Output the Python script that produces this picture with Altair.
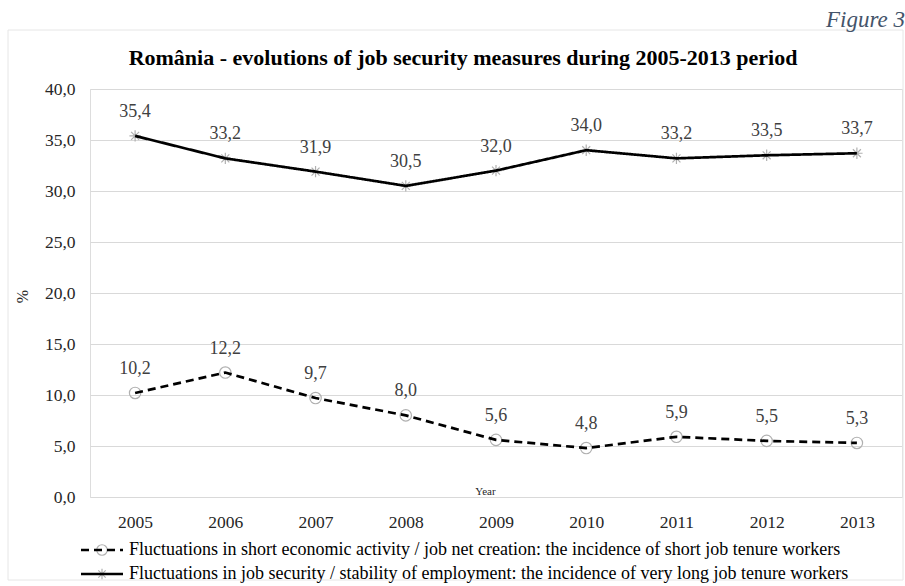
import altair as alt
import pandas as pd

years = ["2005", "2006", "2007", "2008", "2009", "2010", "2011", "2012", "2013"]
short_tenure = [10.2, 12.2, 9.7, 8.0, 5.6, 4.8, 5.9, 5.5, 5.3]
long_tenure = [35.4, 33.2, 31.9, 30.5, 32.0, 34.0, 33.2, 33.5, 33.7]
series_names = [
    "Fluctuations in short economic activity / job net creation: the incidence of short job tenure workers",
    "Fluctuations in job security / stability of employment:  the incidence of very  long job tenure workers",
]
y_ticks = [0, 5, 10, 15, 20, 25, 30, 35, 40]
title_text = "România - evolutions of job security measures during 2005-2013 period"

df = pd.DataFrame({
    "year": years * 2,
    "value": short_tenure + long_tenure,
    "series": [series_names[0]] * len(years) + [series_names[1]] * len(years),
})
df["marker"] = df["series"]

FONT = "Liberation Serif"
W, H = 812, 408

x_enc = alt.X("year:O", scale=alt.Scale(type="point", padding=0.5),
              axis=alt.Axis(title="Year", labelAngle=0, ticks=False, domain=False,
                            labelPadding=16, labelFontSize=17.5, labelColor="#262626",
                            labelFont=FONT, titleFont=FONT, titleFontSize=11,
                            titleFontWeight="normal", titleColor="#262626",
                            titleX=395, titleY=-12, grid=False))
y_enc = alt.Y("value:Q", scale=alt.Scale(domain=[0, 40], nice=False),
              axis=alt.Axis(title="%", values=y_ticks, ticks=False, domain=False,
                            labelExpr="replace(format(datum.value, '.1f'), '.', ',')",
                            labelPadding=15, labelFontSize=17.5, labelColor="#262626",
                            labelFont=FONT, titleFont=FONT, titleFontSize=16,
                            titleFontWeight="normal", titleColor="#262626",
                            titleX=-60, titleY=207, gridColor="#d9d9d9", gridWidth=1))

base = alt.Chart(df)

one = pd.DataFrame({"a": [0]})
frame = alt.Chart(one).mark_rect(fill=None, stroke="#e6e6e6", strokeWidth=1).encode(
    x=alt.value(-82), x2=alt.value(813), y=alt.value(-59), y2=alt.value(491)
)
fig_text = alt.Chart(one).mark_text(
    text="Figure 3", font=FONT, fontSize=23, fontStyle="italic", color="#44546a",
    align="left", baseline="middle"
).encode(x=alt.value(736), y=alt.value(-69))
title_mark = alt.Chart(one).mark_text(
    text=title_text, font=FONT, fontSize=22, fontWeight="bold", color="black",
    align="center", baseline="middle"
).encode(x=alt.value(373), y=alt.value(-31))

asterisk = "M-1,0L1,0M0,-1L0,1M-0.7,-0.7L0.7,0.7M-0.7,0.7L0.7,-0.7"

points = base.mark_point(filled=False, color="#b0b0b0", strokeWidth=1.2, size=130, opacity=1).encode(
    x=x_enc, y=y_enc,
    shape=alt.Shape("marker:N", scale=alt.Scale(domain=series_names, range=["circle", asterisk]),
                    legend=alt.Legend(title=None, orient="none", legendX=3, legendY=452,
                                      direction="vertical", symbolSize=110,
                                      symbolStrokeColor="#b0b0b0", symbolStrokeWidth=1.2,
                                      symbolFillColor="white", symbolOpacity=1,
                                      labelFont=FONT, labelFontSize=18, labelExpr="''",
                                      labelLimit=0, rowPadding=6)),
)

lines = base.mark_line(color="black", strokeWidth=2.7).encode(
    x=x_enc, y=y_enc,
    strokeDash=alt.StrokeDash("series:N",
                              scale=alt.Scale(domain=series_names, range=[[8, 5], [1, 0]]),
                              legend=alt.Legend(title=None, orient="none", legendX=3, legendY=452,
                                                direction="vertical", symbolType="M-3.5,0L3.5,0",
                                                symbolSize=144, symbolStrokeWidth=2.7,
                                                symbolStrokeColor="black", labelFont=FONT,
                                                labelFontSize=18, labelColor="black",
                                                labelLimit=0, rowPadding=6, labelOffset=18)),
)

labels = base.transform_calculate(
    lab="replace(format(datum.value, '.1f'), '.', ',')"
).mark_text(font=FONT, fontSize=18, color="#404040", baseline="bottom", dy=-15).encode(
    x=x_enc, y=y_enc, text="lab:N"
)

chart = alt.layer(frame, fig_text, title_mark, points, lines, labels).properties(
    width=W, height=H,
    autosize=alt.AutoSizeParams(type="none"),
    padding={"left": 90, "top": 89, "right": 3, "bottom": 89},
).resolve_legend(strokeDash="independent", shape="independent").configure_view(
    stroke=None).configure(background="white")

chart.save("out.html", embed_options={"renderer": "svg", "actions": False})
